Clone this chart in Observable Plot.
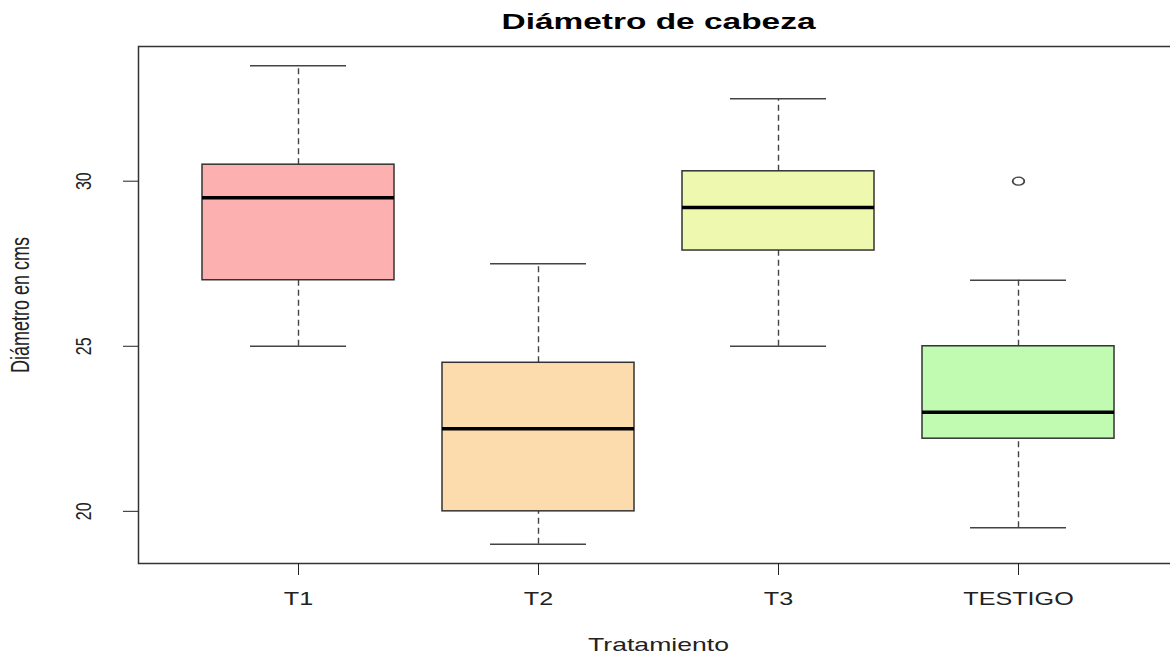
<!DOCTYPE html>
<html><head><meta charset="utf-8">
<script src="https://cdn.jsdelivr.net/npm/d3@7"></script>
<script src="https://cdn.jsdelivr.net/npm/@observablehq/plot@0.6"></script>
<style>
html,body{margin:0;padding:0;background:#fff;overflow:hidden;width:1170px;height:656px}
#chart svg{max-width:none !important;display:block}
</style></head><body><div id="chart"></div>
<script>
const title = "Diámetro de cabeza";
const xLabel = "Tratamiento";
const yLabel = "Diámetro en cms";
const categories = ["T1", "T2", "T3", "TESTIGO"];
const whiskerLow = [25, 19, 25, 19.5];
const q1 = [27, 20, 27.9, 22.2];
const median = [29.5, 22.5, 29.2, 23];
const q3 = [30.5, 24.5, 30.3, 25];
const whiskerHigh = [33.5, 27.5, 32.5, 27];
const outlierCats = ["TESTIGO"];
const outlierValues = [30];
const colors = ["#FDB0B0", "#FCDCAD", "#EEF9AF", "#C1FBB2"];
const yTicks = [20, 25, 30];

const boxes = categories.map((c, i) => ({cat: c, lo: whiskerLow[i], q1: q1[i], med: median[i], q3: q3[i], hi: whiskerHigh[i]}));
const outliers = outlierCats.map((c, i) => ({cat: c, value: outlierValues[i]}));
const font = "'Liberation Sans', Arial, sans-serif";

const plot = Plot.plot({
  width: 1180, height: 656,
  marginLeft: 138, marginRight: 2, marginTop: 46, marginBottom: 93,
  style: {fontFamily: font, color: "#222", background: "#fff"},
  x: {domain: categories, paddingInner: 0.2, paddingOuter: 0.26, label: null},
  y: {domain: [18.42, 34.08], label: null},
  color: {domain: categories, range: colors},
  marks: [
    Plot.ruleX(boxes, {x: "cat", y1: "q3", y2: "hi", stroke: "#444", strokeWidth: 1.4, strokeDasharray: "6,4"}),
    Plot.ruleX(boxes, {x: "cat", y1: "lo", y2: "q1", stroke: "#444", strokeWidth: 1.4, strokeDasharray: "6,4"}),
    Plot.tickY(boxes, {x: "cat", y: "hi", insetLeft: 48, insetRight: 48, stroke: "#444", strokeWidth: 1.5}),
    Plot.tickY(boxes, {x: "cat", y: "lo", insetLeft: 48, insetRight: 48, stroke: "#444", strokeWidth: 1.5}),
    Plot.barY(boxes, {x: "cat", y1: "q1", y2: "q3", fill: "cat", stroke: "#333", strokeWidth: 1.5}),
    Plot.tickY(boxes, {x: "cat", y: "med", stroke: "#000", strokeWidth: 3.5}),
    Plot.dot(outliers, {x: "cat", y: "value", r: 4, stroke: "#444", strokeWidth: 1.3}),
    Plot.frame({stroke: "#333", strokeWidth: 1.5}),
    Plot.axisX({tickSize: 12, tickPadding: 29, fontSize: 18, label: null}),
    Plot.axisY({ticks: yTicks, tickSize: 15, tickPadding: 33, tickRotate: -90, fontSize: 16, label: null}),
    Plot.text([yLabel], {frameAnchor: "left", rotate: -90, dx: -110, textAnchor: "middle", lineAnchor: "top", fontSize: 18}),
    Plot.text([xLabel], {frameAnchor: "bottom", dy: 87, textAnchor: "middle", lineAnchor: "bottom", fontSize: 19}),
    Plot.text([title], {frameAnchor: "top", dy: -18, textAnchor: "middle", fontSize: 22, fontWeight: "bold", fill: "#000"})
  ]
});
document.getElementById("chart").append(plot);

// The reference image is horizontally stretched: widen the glyphs on screen.
d3.select(plot).selectAll("text").each(function () {
  const el = this;
  const s = el.textContent === title ? 1.52 : 1.4;
  const t = el.getAttribute("transform") || "";
  const rotated = t.includes("rotate");
  const x = +el.getAttribute("x") || 0, y = +el.getAttribute("y") || 0;
  el.removeAttribute("x"); el.removeAttribute("y");
  el.setAttribute("transform", `${t} translate(${x},${y}) ${rotated ? `scale(1,${s})` : `scale(${s},1)`}`);
});
// Outlier symbols appear as horizontally stretched circles.
d3.select(plot).selectAll("circle").each(function () {
  const cx = +this.getAttribute("cx"), cy = +this.getAttribute("cy");
  this.setAttribute("transform", `translate(${cx},${cy}) scale(1.45,1) translate(${-cx},${-cy})`);
});
</script></body></html>
